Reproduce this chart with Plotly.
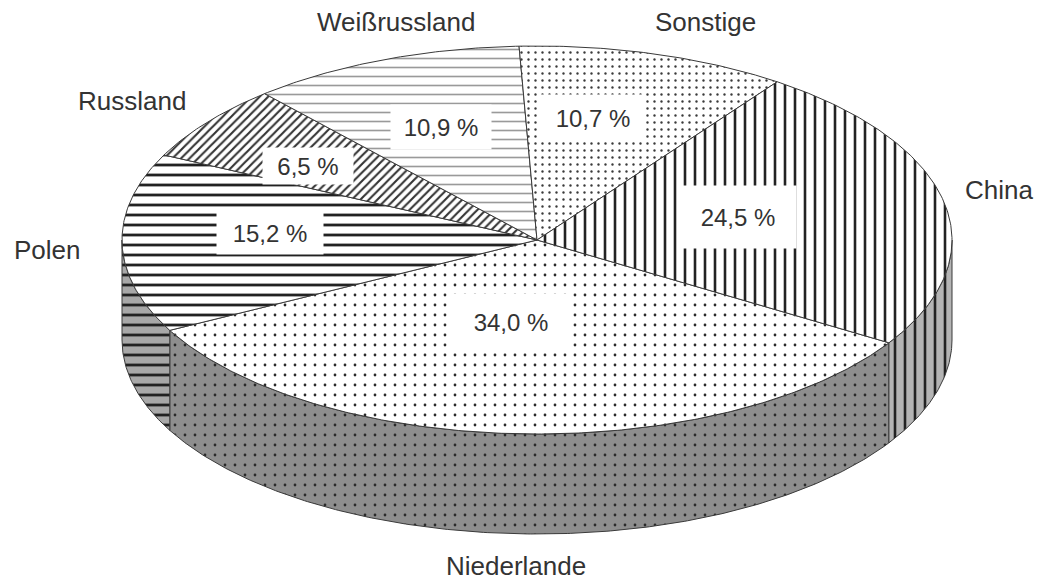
import numpy as np
import plotly.graph_objects as go

# ---------------- data ----------------
categories = ["Niederlande", "Polen", "Russland", "Weißrussland", "Sonstige", "China"]
values = [34.0, 15.2, 6.5, 10.9, 10.7, 24.5]

# ---------------- layout / style constants ----------------
W, H = 1042, 585
CX, CY = 537, 240          # centre of top face (px)
RX, RY = 415, 194          # ellipse radii of top face
DEPTH = 100                # thickness of the pie
START_DEG = -32            # angle where first slice starts, going clockwise

top_patterns = {
    "Niederlande":  dict(shape=".", fgcolor="#2a2a2a", bgcolor="white", size=10, solidity=0.06),
    "Polen":        dict(shape="-", fgcolor="#222222", bgcolor="white", size=10, solidity=0.28),
    "Russland":     dict(shape="/", fgcolor="#333333", bgcolor="white", size=6, solidity=0.35),
    "Weißrussland": dict(shape="-", fgcolor="#9a9a9a", bgcolor="white", size=9, solidity=0.18),
    "Sonstige":     dict(shape=".", fgcolor="#3a3a3a", bgcolor="white", size=7, solidity=0.09),
    "China":        dict(shape="|", fgcolor="#222222", bgcolor="white", size=10, solidity=0.26),
}
wall_bg = {
    "Niederlande": "#8e8e8e",
    "Polen": "#a8a8a8",
    "China": "#b4b4b4",
    "Russland": "#a8a8a8",
    "Weißrussland": "#b0b0b0",
    "Sonstige": "#a0a0a0",
}

# percentage-label centres and box sizes (px)
pct_pos = {
    "Niederlande": (511, 322), "Polen": (270, 233), "Russland": (308, 166),
    "Weißrussland": (441, 127), "Sonstige": (593, 118), "China": (738, 217),
}
pct_box = {
    "Niederlande": (122, 56), "Polen": (106, 42), "Russland": (90, 36),
    "Weißrussland": (100, 44), "Sonstige": (104, 46), "China": (116, 62),
}
# category-label centres (px)
cat_pos = {
    "Niederlande": (516, 566), "Polen": (47, 250), "Russland": (132, 101),
    "Weißrussland": (396, 22), "Sonstige": (705, 22), "China": (999, 190),
}

FONT = "Liberation Sans, Arial, sans-serif"
OUTLINE = dict(color="#3a3a3a", width=1)


def arc(t0, t1, dy=0.0, n=None):
    if n is None:
        n = max(int(abs(t1 - t0) * 2), 4)
    t = np.radians(np.linspace(t0, t1, n))
    return CX + RX * np.cos(t), CY - RY * np.sin(t) + dy


total = float(sum(values))
angles = []
a = START_DEG
for v in values:
    span = v / total * 360.0
    angles.append((a, a - span))
    a -= span

fig = go.Figure()

# ---- side walls (front half only: parametric angle in (-180, 0) mod 360) ----
for cat, (a0, a1) in zip(categories, angles):
    hi, lo = a0, a1
    for k in (-1, 0, 1):
        wlo, whi = -180 + 360 * k, 0 + 360 * k
        s_lo, s_hi = max(lo, wlo), min(hi, whi)
        if s_hi - s_lo > 0.01:
            xt, yt = arc(s_hi, s_lo)
            xb, yb = arc(s_lo, s_hi, dy=DEPTH)
            xs = np.concatenate([xt, xb, xt[:1]])
            ys = np.concatenate([yt, yb, yt[:1]])
            p = dict(top_patterns[cat])
            p["bgcolor"] = wall_bg[cat]
            p["fgopacity"] = 1
            fig.add_trace(go.Scatter(
                x=xs, y=ys, mode="lines", fill="toself",
                fillcolor=wall_bg[cat], fillpattern=p,
                line=OUTLINE, hoverinfo="skip", showlegend=False))

# ---- top faces ----
for cat, v, (a0, a1) in zip(categories, values, angles):
    xa, ya = arc(a0, a1)
    xs = np.concatenate([[CX], xa, [CX]])
    ys = np.concatenate([[CY], ya, [CY]])
    p = dict(top_patterns[cat])
    p["fgopacity"] = 1
    fig.add_trace(go.Scatter(
        x=xs, y=ys, mode="lines", fill="toself",
        fillcolor="white", fillpattern=p,
        line=OUTLINE, hoverinfo="skip", showlegend=False,
        name=cat))

# ---- labels ----
annotations = []
for cat, v in zip(categories, values):
    px, py = pct_pos[cat]
    bw, bh = pct_box[cat]
    annotations.append(dict(
        x=px, y=py, xref="x", yref="y",
        text=f"{v:.1f}".replace(".", ",") + " %",
        showarrow=False, bgcolor="white", width=bw, height=bh,
        align="center", valign="middle", borderpad=0,
        font=dict(family=FONT, size=24, color="#333333")))
    cx_, cy_ = cat_pos[cat]
    annotations.append(dict(
        x=cx_, y=cy_, xref="x", yref="y", text=cat, showarrow=False,
        font=dict(family=FONT, size=26, color="#333333")))

fig.update_layout(
    width=W, height=H,
    margin=dict(l=0, r=0, t=0, b=0),
    paper_bgcolor="white", plot_bgcolor="white",
    xaxis=dict(range=[0, W], visible=False, fixedrange=True),
    yaxis=dict(range=[H, 0], visible=False, fixedrange=True),
    annotations=annotations,
    showlegend=False,
)

fig.write_html(
    "out.html",
    config={"displayModeBar": False},
    post_script="document.body.style.margin='0px';document.body.style.overflow='hidden';",
)
